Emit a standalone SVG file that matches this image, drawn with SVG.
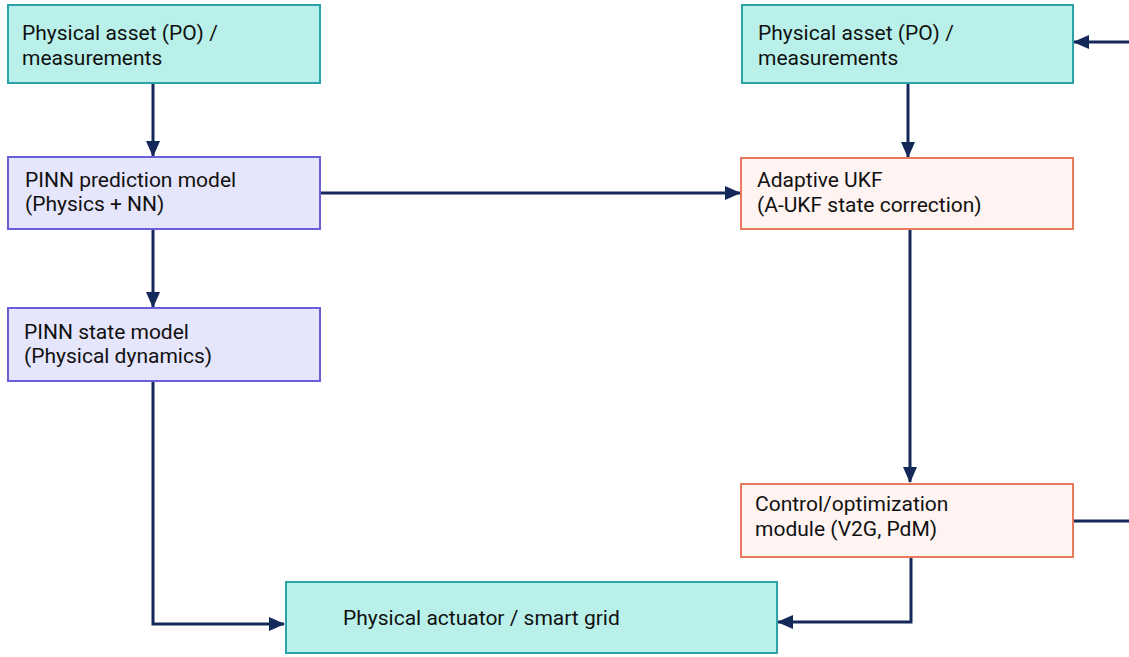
<svg xmlns="http://www.w3.org/2000/svg" width="1129" height="657" viewBox="0 0 1129 657">
  <style>
    .teal { fill: #b9f1ea; stroke: #2ba3a8; stroke-width: 2; }
    .violet { fill: #e5e5fb; stroke: #6a5fd8; stroke-width: 2; }
    .coral { fill: #fff4f1; stroke: #e97a5e; stroke-width: 2; }
    text { font-family: Roboto, "Liberation Sans", sans-serif; font-size: 21px; fill: #111; }
    .wire { fill: none; stroke: #14295a; stroke-width: 3; }
  </style>
  <defs>
    <marker id="head" viewBox="0 0 16 14" refX="15" refY="7" markerWidth="16" markerHeight="14" markerUnits="userSpaceOnUse" orient="auto">
      <path d="M0,0 L16,7 L0,14 Z" fill="#14295a"/>
    </marker>
  </defs>

  <g id="connectors">
    <path class="wire" d="M153,83 V156" marker-end="url(#head)"/>
    <path class="wire" d="M153,230 V307" marker-end="url(#head)"/>
    <path class="wire" d="M321,193 H740" marker-end="url(#head)"/>
    <path class="wire" d="M908,83 V157" marker-end="url(#head)"/>
    <path class="wire" d="M910,230 V482" marker-end="url(#head)"/>
    <path class="wire" d="M153,382 V624 H284" marker-end="url(#head)"/>
    <path class="wire" d="M911,558 V622 H778" marker-end="url(#head)"/>
    <path class="wire" d="M1074,521 H1145 V42 H1074" marker-end="url(#head)"/>
  </g>

  <g id="asset-left">
    <rect class="teal" x="8" y="5" width="312" height="78"/>
    <text x="22" y="40">Physical asset (PO) /</text>
    <text x="22" y="65">measurements</text>
  </g>

  <g id="asset-right">
    <rect class="teal" x="742" y="5" width="331" height="78"/>
    <text x="758" y="40">Physical asset (PO) /</text>
    <text x="758" y="65">measurements</text>
  </g>

  <g id="pinn-prediction">
    <rect class="violet" x="8" y="157" width="312" height="72"/>
    <text x="25" y="187">PINN prediction model</text>
    <text x="25" y="211">(Physics + NN)</text>
  </g>

  <g id="pinn-state">
    <rect class="violet" x="8" y="308" width="312" height="73"/>
    <text x="24" y="339">PINN state model</text>
    <text x="24" y="363">(Physical dynamics)</text>
  </g>

  <g id="adaptive-ukf">
    <rect class="coral" x="741" y="158" width="332" height="71"/>
    <text x="757" y="187">Adaptive UKF</text>
    <text x="757" y="212">(A-UKF state correction)</text>
  </g>

  <g id="control-module">
    <rect class="coral" x="741" y="484" width="332" height="73"/>
    <text x="755" y="511">Control/optimization</text>
    <text x="755" y="536">module (V2G, PdM)</text>
  </g>

  <g id="actuator">
    <rect class="teal" x="286" y="582" width="491" height="71"/>
    <text x="343" y="625">Physical actuator / smart grid</text>
  </g>
</svg>
